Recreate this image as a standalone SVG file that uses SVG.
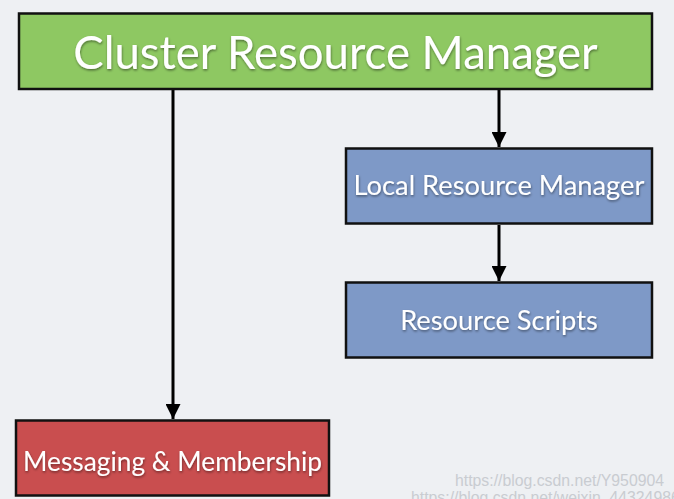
<svg xmlns="http://www.w3.org/2000/svg" width="674" height="499" viewBox="0 0 674 499">
<style>
.box{stroke:#111;stroke-width:2.5}
.lbl{font-family:Lato,"Open Sans","DejaVu Sans",sans-serif;fill:#fff;text-anchor:middle;filter:url(#sh)}
.conn{stroke:#000;stroke-width:3;fill:none}
.wm{font-family:"Liberation Sans",Arial,sans-serif;font-size:15.8px;fill:#c9ccd1}
</style>
<defs>
<filter id="sh" x="-10%" y="-30%" width="120%" height="160%">
<feDropShadow dx="0.5" dy="1.5" stdDeviation="1" flood-color="#000" flood-opacity="0.45"/>
</filter>
<marker id="ah" viewBox="0 0 10 10" refX="10" refY="5" markerWidth="5" markerHeight="5" markerUnits="strokeWidth" orient="auto">
<path d="M0,0 L10,5 L0,10 Z" fill="#000"/>
</marker>
</defs>
<rect width="674" height="499" fill="#eef0f3"/>
<g id="connectors">
<line class="conn" x1="173" y1="90" x2="173" y2="419" marker-end="url(#ah)"/>
<line class="conn" x1="499" y1="90" x2="499" y2="147" marker-end="url(#ah)"/>
<line class="conn" x1="499" y1="225" x2="499" y2="281" marker-end="url(#ah)"/>
</g>
<g id="cluster-resource-manager">
<rect class="box" x="19" y="13.5" width="633" height="75.5" fill="#8ec862"/>
<text class="lbl" x="335.5" y="69" font-size="45.5">Cluster Resource Manager</text>
</g>
<g id="local-resource-manager">
<rect class="box" x="346" y="148.5" width="306" height="75" fill="#7e99c7"/>
<text class="lbl" x="499" y="195" font-size="27.3">Local Resource Manager</text>
</g>
<g id="resource-scripts">
<rect class="box" x="346" y="282.5" width="306" height="75" fill="#7e99c7"/>
<text class="lbl" x="499" y="330" font-size="27.3">Resource Scripts</text>
</g>
<g id="messaging-membership">
<rect class="box" x="16" y="420.5" width="313" height="75" fill="#c94e4f"/>
<text class="lbl" x="172.5" y="471" font-size="26.3">Messaging &amp; Membership</text>
</g>
<text class="wm" x="455" y="486">https://blog.csdn.net/Y950904</text>
<text class="wm" x="411" y="503">https://blog.csdn.net/weixin_44324986</text>
</svg>
